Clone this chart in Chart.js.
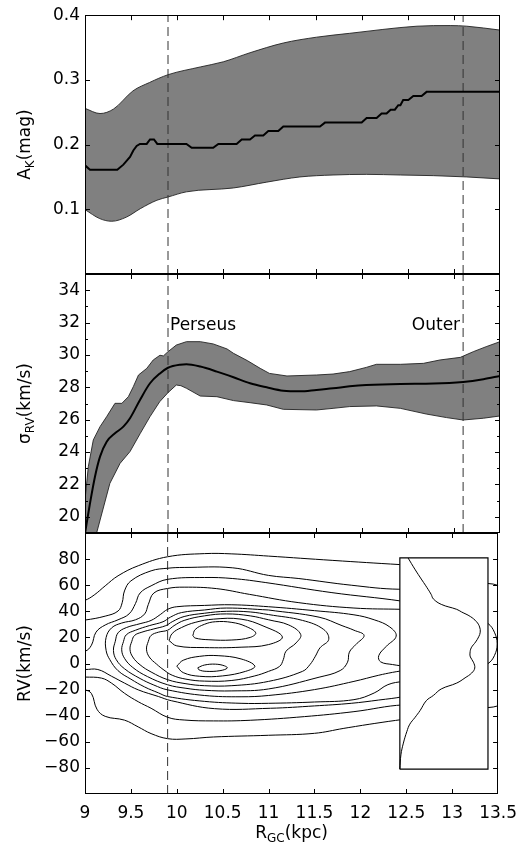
<!DOCTYPE html>
<html><head><meta charset="utf-8">
<script src="https://cdn.jsdelivr.net/npm/chart.js@4.4.1/dist/chart.umd.min.js"></script>
<style>
html,body{margin:0;padding:0;background:#fff;}
#wrap{position:relative;width:526px;height:850px;background:#fff;}
canvas{position:absolute;left:0;top:0;}
</style></head><body>
<div id="wrap">
<canvas id="c1" width="526" height="850"></canvas>
<canvas id="c2" width="526" height="850"></canvas>
<canvas id="c3" width="526" height="850"></canvas>
</div>
<script>
// ---------- shared axis values ----------
const xTicks = [9, 9.5, 10, 10.5, 11, 11.5, 12, 12.5, 13, 13.5];
const regionLines = [9.9, 13.1];
const akTicks = [0, 0.1, 0.2, 0.3, 0.4];
const sigTicks = [20, 22, 24, 26, 28, 30, 32, 34];
const sigMinor = [19, 21, 23, 25, 27, 29, 31, 33, 35];
const rvTicks = [-80, -60, -40, -20, 0, 20, 40, 60, 80];

// ---------- panel 1: A_K ----------
const akUpX = [9.0, 9.163, 9.31, 9.52, 9.70, 9.90, 10.25, 10.5, 10.79, 11.15, 11.51, 11.87, 12.23, 12.6, 12.96, 13.14, 13.5];
const akUp  = [0.256, 0.248, 0.255, 0.283, 0.296, 0.308, 0.320, 0.328, 0.342, 0.357, 0.366, 0.372, 0.378, 0.383, 0.384, 0.383, 0.377];
const akLoX = [9.0, 9.16, 9.29, 9.45, 9.6, 9.78, 9.9, 10.1, 10.61, 10.97, 11.33, 11.69, 12.05, 12.42, 12.78, 13.14, 13.5];
const akLo  = [0.0995, 0.0856, 0.0815, 0.088, 0.101, 0.114, 0.119, 0.127, 0.133, 0.142, 0.150, 0.153, 0.154, 0.153, 0.152, 0.150, 0.147];
const akMedX = [9.0, 9.054, 9.35, 9.416, 9.488, 9.524, 9.56, 9.596, 9.669, 9.705, 9.748, 9.784, 10.10, 10.157, 10.39, 10.446, 10.644, 10.699, 10.789, 10.843, 10.933, 10.988, 11.096, 11.15, 11.548, 11.602, 12.0, 12.054, 12.162, 12.216, 12.27, 12.314, 12.36, 12.397, 12.42, 12.45, 12.506, 12.56, 12.65, 12.704, 13.5];
const akMed  = [0.168, 0.161, 0.161, 0.169, 0.181, 0.191, 0.198, 0.201, 0.201, 0.208, 0.208, 0.201, 0.201, 0.195, 0.195, 0.201, 0.201, 0.208, 0.208, 0.214, 0.214, 0.221, 0.221, 0.228, 0.228, 0.234, 0.234, 0.241, 0.241, 0.248, 0.248, 0.254, 0.254, 0.261, 0.261, 0.269, 0.269, 0.275, 0.275, 0.2815, 0.2815];

// ---------- panel 2: sigma_RV ----------
const sigMedX = [9.0, 9.054, 9.108, 9.163, 9.235, 9.325, 9.416, 9.488, 9.596, 9.705, 9.813, 9.9, 10.03, 10.1, 10.25, 10.43, 10.61, 10.79, 10.97, 11.15, 11.33, 11.51, 11.69, 11.87, 12.05, 12.42, 12.78, 13.1, 13.32, 13.5];
const sigMed  = [18.98, 20.83, 22.48, 23.72, 24.64, 25.16, 25.57, 26.09, 27.22, 28.25, 28.86, 29.21, 29.4, 29.42, 29.28, 28.97, 28.62, 28.25, 28.0, 27.79, 27.75, 27.84, 27.94, 28.06, 28.14, 28.21, 28.23, 28.33, 28.5, 28.7];
const sigUpX = [9.0, 9.036, 9.09, 9.163, 9.235, 9.325, 9.4, 9.47, 9.524, 9.58, 9.67, 9.74, 9.813, 9.85, 9.9, 9.99, 10.1, 10.25, 10.39, 10.54, 10.61, 10.76, 10.9, 11.0, 11.19, 11.51, 11.69, 11.87, 12.05, 12.16, 12.42, 12.67, 12.85, 13.07, 13.21, 13.35, 13.5];
const sigUp  = [21.04, 23.1, 24.75, 25.57, 26.19, 27.01, 27.01, 27.42, 28.04, 28.76, 29.17, 29.69, 29.98, 29.94, 30.2, 30.61, 30.82, 30.82, 30.68, 30.37, 30.1, 29.65, 29.17, 28.86, 28.7, 28.76, 28.82, 28.97, 29.23, 29.42, 29.42, 29.48, 29.69, 29.85, 30.2, 30.51, 30.82];
const sigLoX = [9.0, 9.126, 9.27, 9.38, 9.488, 9.6, 9.705, 9.81, 9.9, 9.99, 10.04, 10.1, 10.25, 10.43, 10.61, 10.79, 10.97, 11.15, 11.51, 11.69, 11.87, 12.16, 12.42, 12.7, 12.92, 13.1, 13.32, 13.5];
const sigLo  = [16.3, 19.0, 22.07, 23.3, 24.03, 25.16, 26.19, 27.11, 27.67, 28.14, 28.1, 27.94, 27.46, 27.42, 27.18, 27.05, 26.91, 26.64, 26.6, 26.7, 26.81, 26.85, 26.7, 26.35, 26.13, 25.98, 26.09, 26.23];
const regionNames = ['Perseus', 'Outer'];

// ---------- panel 3: RV contours (R_GC, RV) ----------
const contourA = [[12.8,74.5],[12.43,75.8],[11.7,79],[11.0,82.3],[10.6,84],[10.3,84.2],[9.9,81.8],[9.58,74.9],[9.36,67.2],[9.22,59.5],[9.1,52.5],[9.0,48.4],[8.8,44],[8.8,-19],[9.0,-20.3],[9.07,-23],[9.13,-35],[9.22,-40.5],[9.43,-43.4],[9.58,-48.6],[9.72,-53.7],[9.9,-57.6],[10.1,-57.8],[10.4,-56.3],[11.0,-55],[11.5,-53.5],[11.82,-49.7],[12.15,-46],[12.47,-42.8],[12.8,-40]];
const contourB = [[13.6,57.5],[13.39,61.3],[12.9,58.5],[12.42,56.9],[11.9,60],[11.33,65.1],[11.0,67.5],[10.61,73.3],[10.08,73.6],[9.9,73],[9.72,71],[9.5,63.3],[9.43,55.6],[9.405,46.6],[9.36,40.2],[9.22,36.3],[9.0,33.3],[8.8,32],[8.8,-10],[9.0,-10.4],[9.18,-11.2],[9.29,-15.1],[9.43,-22.8],[9.58,-29.3],[9.72,-34.3],[9.9,-41.2],[10.08,-43.3],[10.4,-44],[10.8,-43.5],[11.39,-40.7],[11.93,-36.9],[12.47,-31.7],[12.9,-33],[13.39,-33.8],[13.6,-30.5]];
const contourC = [[13.3,-2],[13.39,-0.1],[13.46,6],[13.49,15],[13.46,24],[13.39,30.7],[13.3,33],[12.9,42],[12.45,47.8],[11.69,54.3],[10.97,62],[10.61,65.1],[10.3,65.9],[9.9,64.5],[9.72,59.5],[9.6,54],[9.55,46],[9.48,38],[9.36,33.5],[9.22,29.5],[9.12,24],[9.07,14],[9.0,9.4],[8.8,8],[8.8,-4],[9.0,-4.6],[9.14,-4.6],[9.29,-9.8],[9.43,-15],[9.58,-20.2],[9.8,-25.3],[9.94,-28.5],[10.41,-34.6],[11.02,-34.3],[11.5,-32.5],[11.9,-30.5],[12.2,-28],[12.47,-25.3],[12.9,-18],[13.3,-2]];
const contourD = [[12.7,41],[12.45,41.5],[11.93,42.5],[11.33,46.6],[10.79,53],[10.43,57.4],[10.08,58.5],[9.9,57.5],[9.75,54],[9.69,45.3],[9.65,38],[9.55,33.5],[9.4,31],[9.29,27.3],[9.23,20],[9.23,10],[9.27,3],[9.36,-5.5],[9.5,-12],[9.65,-18],[9.8,-22.5],[9.9,-25.3],[10.3,-29],[10.7,-30.5],[11.0,-30.5],[11.5,-29.5],[11.93,-27.7],[12.15,-22.6],[12.3,-16.2],[12.47,-13.7],[12.7,-12]];
const contourE = [[12.6,-3.5],[12.5,-2.3],[12.35,-0.8],[12.22,1.3],[12.2,6],[12.28,13],[12.39,21],[12.32,28],[12.15,33.5],[11.93,37.3],[11.5,40.5],[11.0,43.5],[10.6,45],[10.3,44.5],[10.0,43.5],[9.9,41.5],[9.82,37.5],[9.72,33],[9.6,30.5],[9.45,27.5],[9.36,23.5],[9.33,17],[9.31,10],[9.34,3],[9.43,-4],[9.6,-11.5],[9.75,-16.5],[9.9,-20.2],[10.3,-24.5],[10.7,-25.5],[11.0,-24.5],[11.5,-20],[11.93,-13.7],[12.2,-9],[12.35,-6.8],[12.5,-5],[12.6,-3.5]];
const contourH = [[11.0,41],[10.54,42.5],[10.3,41],[10.05,39],[9.93,35.5],[9.85,32],[9.7,29],[9.55,25.5],[9.45,22],[9.42,17],[9.4,10.5],[9.43,4],[9.52,-3],[9.68,-10],[9.9,-16.3],[10.1,-19],[10.3,-20.5],[10.6,-21],[11.0,-19.5],[11.55,-10.5],[11.78,-5.4],[11.86,1],[11.88,8.7],[11.95,14.5],[12.04,21.5],[11.93,25.5],[11.8,29],[11.55,35.5],[11.0,41]];
const contourG = [[11.0,37.5],[10.8,39.5],[10.54,40],[10.3,38.5],[10.08,36],[9.95,32],[9.88,29],[9.75,26.5],[9.62,24],[9.54,21.5],[9.51,17],[9.49,11],[9.52,5],[9.6,-1],[9.72,-6.5],[9.9,-12.4],[10.1,-15.5],[10.3,-17],[10.6,-17],[11.0,-13.7],[11.37,-6],[11.45,-0.9],[11.51,5.6],[11.56,12],[11.655,18.4],[11.6,26.1],[11.37,33],[11.0,37.5]];
const contourF = [[11.0,33.5],[10.8,36.5],[10.54,38],[10.3,36.5],[10.08,33],[9.97,29],[9.9,25.5],[9.8,24],[9.72,21.5],[9.69,17],[9.67,11],[9.7,5],[9.78,-0.5],[9.86,-5],[9.95,-9],[10.1,-12],[10.3,-13.5],[10.6,-13],[10.85,-9.5],[11.0,-6],[11.12,-2.2],[11.16,2.9],[11.19,9.4],[11.3,15.8],[11.35,22.2],[11.22,29.5],[11.0,33.5]];
const contourUp1 = [[9.915,17.6],[9.95,23],[10.05,27.5],[10.2,31.5],[10.4,34],[10.7,34],[10.95,28.5],[11.15,20.4],[11.0,14.5],[10.7,12.5],[10.3,12.2],[10.0,13.5],[9.915,17.6]];
const contourUp2 = [[10.175,21.5],[10.2,26],[10.3,30],[10.42,32],[10.6,31.5],[10.75,28.5],[10.86,23.5],[10.8,20],[10.6,18],[10.35,18.2],[10.2,19.5],[10.175,21.5]];
const contourLo1 = [[10.0,-2],[10.07,2.5],[10.25,5.5],[10.45,6],[10.7,3.5],[10.85,-2],[10.75,-6],[10.5,-9.5],[10.25,-9.8],[10.07,-7],[10.0,-2]];
const contourLo2 = [[10.23,-3.2],[10.3,-1.2],[10.42,-0.5],[10.52,-1.8],[10.55,-3.5],[10.47,-5.5],[10.32,-6],[10.24,-4.8],[10.23,-3.2]];
const contourList = [contourA, contourB, contourC, contourD, contourE, contourH, contourG, contourF, contourUp1, contourUp2, contourLo1, contourLo2];

// inset: RV distribution (density 0..1 across the inset box)
const insetX = [12.43, 13.39];
const insetY = [-81, 81];
const profDensity = [0.0, 0.012, 0.04, 0.08, 0.113, 0.17, 0.23, 0.3, 0.38, 0.47, 0.645, 0.74, 0.815, 0.85, 0.835, 0.8, 0.796, 0.81, 0.86, 0.895, 0.912, 0.905, 0.87, 0.8, 0.7, 0.645, 0.47, 0.38, 0.355, 0.29, 0.25, 0.17, 0.094];
const profRV      = [-81, -70, -61, -52, -46.5, -41.5, -36, -28.5, -24.5, -19.5, -15, -11, -7.3, -3.5, 1, 5, 8, 12, 16.5, 20.5, 24, 28, 32, 36, 39.5, 41.5, 45.3, 49.5, 53, 60, 64, 72.3, 80.8];

// ---------- helpers ----------
const FONT = {family: 'DejaVu Sans', size: 17};
const zip = (xs, ys) => xs.map((x, i) => ({x, y: ys[i]}));
const pts = arr => arr.map(p => ({x: p[0], y: p[1]}));

function drawRich(ctx, parts, x, y, rotate) {
  const mainF = '17px "DejaVu Sans"', subF = '12px "DejaVu Sans"';
  ctx.save();
  ctx.translate(x, y);
  if (rotate) ctx.rotate(-Math.PI / 2);
  let w = 0;
  const ws = parts.map(p => { ctx.font = p[1] ? subF : mainF; const m = ctx.measureText(p[0]).width; w += m; return m; });
  let cx = -w / 2;
  ctx.fillStyle = '#000'; ctx.textBaseline = 'alphabetic'; ctx.textAlign = 'left';
  parts.forEach((p, i) => { ctx.font = p[1] ? subF : mainF; ctx.fillText(p[0], cx, p[1] ? 4 : 0); cx += ws[i]; });
  ctx.restore();
}

const decor = {
  id: 'decor',
  afterDraw(chart, args, o) {
    const {ctx, chartArea: {left, right, top, bottom}} = chart;
    const xs = chart.scales.x, ys = chart.scales.y;
    ctx.save();
    ctx.strokeStyle = '#000'; ctx.lineWidth = 1;
    ctx.beginPath();
    xTicks.forEach(v => {
      if (v <= 9 || v >= 13.5) return;
      const p = Math.round(xs.getPixelForValue(v)) + 0.5;
      ctx.moveTo(p, bottom); ctx.lineTo(p, bottom - 5);
      ctx.moveTo(p, top); ctx.lineTo(p, top + 5);
    });
    const yt = (vals, len) => vals.forEach(v => {
      const p = Math.round(ys.getPixelForValue(v)) + 0.5;
      if (p <= top + 1 || p >= bottom - 1) return;
      ctx.moveTo(left, p); ctx.lineTo(left + len, p);
      ctx.moveTo(right, p); ctx.lineTo(right - len, p);
    });
    yt(o.major || [], 5);
    yt(o.minor || [], 3);
    ctx.stroke();
    ctx.strokeRect(Math.round(left) + 0.5, Math.round(top) + 0.5, Math.round(right - left) - 1, Math.round(bottom - top) - 1);
    ctx.restore();
    if (o.yTitle) drawRich(ctx, o.yTitle, 30, (top + bottom) / 2, true);
    if (o.xTitle) drawRich(ctx, o.xTitle, (left + right) / 2, 838, false);
    if (o.notes) {
      ctx.save();
      ctx.font = '17px "DejaVu Sans"'; ctx.fillStyle = '#000'; ctx.textBaseline = 'alphabetic';
      o.notes.forEach(n => {
        ctx.textAlign = n.align;
        ctx.fillText(n.text, xs.getPixelForValue(n.x) + (n.align === 'left' ? 2 : -3), ys.getPixelForValue(n.y));
      });
      ctx.restore();
    }
  }
};

function options(padTop, padBottom, yMin, yMax, yTicks, yFmt, showX, decorOpts, extraScales) {
  const scales = {
    x: {type: 'linear', min: 9, max: 13.5, display: showX,
        afterFit(s) { if (showX) s.height = 56; },
        afterBuildTicks(s) { s.ticks = xTicks.map(v => ({value: v})); },
        grid: {display: false, drawTicks: false}, border: {display: false},
        ticks: {font: FONT, color: '#000', padding: 9, maxRotation: 0, autoSkip: false, callback: v => String(v)}},
    y: {type: 'linear', min: yMin, max: yMax,
        afterFit(s) { s.width = 85; },
        afterBuildTicks(s) { s.ticks = yTicks.map(v => ({value: v})); },
        grid: {display: false, drawTicks: false}, border: {display: false},
        ticks: {font: FONT, color: '#000', padding: 5, autoSkip: false, callback: yFmt}}
  };
  Object.assign(scales, extraScales || {});
  return {
    responsive: false, animation: false, events: [],
    layout: {padding: {left: 0, right: 26, top: padTop, bottom: padBottom}},
    plugins: {legend: {display: false}, tooltip: {enabled: false}, decor: decorOpts},
    scales
  };
}

const lineDefaults = {showLine: true, pointRadius: 0, borderColor: '#000', capBezierPoints: false};
function dashed(x, yMin, yMax) {
  return Object.assign({}, lineDefaults, {data: [{x, y: yMin}, {x, y: yMax}], borderWidth: 1, borderColor: '#333', borderDash: [9, 5], fill: false, order: 1});
}

// ---------- chart 1 ----------
new Chart(document.getElementById('c1'), {
  type: 'scatter',
  data: {datasets: [
    Object.assign({}, lineDefaults, {data: zip(akUpX, akUp), fill: '+1', backgroundColor: '#808080', borderColor: '#222', borderWidth: 0.9, cubicInterpolationMode: 'monotone', order: 5}),
    Object.assign({}, lineDefaults, {data: zip(akLoX, akLo), fill: false, borderColor: '#222', borderWidth: 0.9, cubicInterpolationMode: 'monotone', order: 4}),
    dashed(regionLines[0], 0, 0.4), dashed(regionLines[1], 0, 0.4),
    Object.assign({}, lineDefaults, {data: zip(akMedX, akMed), fill: false, borderWidth: 2, tension: 0, order: 0})
  ]},
  options: options(14, 576, 0, 0.4, akTicks, v => v === 0 ? '' : v.toFixed(1), false,
    {major: akTicks, yTitle: [['A', 0], ['K', 1], ['(mag)', 0]]}),
  plugins: [decor]
});

// ---------- chart 2 ----------
new Chart(document.getElementById('c2'), {
  type: 'scatter',
  data: {datasets: [
    Object.assign({}, lineDefaults, {data: zip(sigUpX, sigUp), fill: '+1', backgroundColor: '#808080', borderColor: '#222', borderWidth: 0.9, tension: 0, order: 5}),
    Object.assign({}, lineDefaults, {data: zip(sigLoX, sigLo), fill: false, borderColor: '#222', borderWidth: 0.9, tension: 0, order: 4}),
    dashed(regionLines[0], 19, 35), dashed(regionLines[1], 19, 35),
    Object.assign({}, lineDefaults, {data: zip(sigMedX, sigMed), fill: false, borderWidth: 2, cubicInterpolationMode: 'monotone', order: 0})
  ]},
  options: options(274, 317, 19, 35, sigTicks, v => String(v), false,
    {major: sigTicks, minor: sigMinor, yTitle: [['σ', 0], ['RV', 1], ['(km/s)', 0]],
     notes: [{text: regionNames[0], x: regionLines[0], y: 31.55, align: 'left'}, {text: regionNames[1], x: regionLines[1], y: 31.55, align: 'right'}]}),
  plugins: [decor]
});

// ---------- chart 3 ----------
const dMin = -(insetX[0] - 9) / (insetX[1] - insetX[0]);
const dMax = dMin + (13.5 - 9) / (insetX[1] - insetX[0]);
const contourSets = contourList.map(c => Object.assign({}, lineDefaults, {data: pts(c), fill: false, borderWidth: 1, tension: 0.4, order: 10}));
new Chart(document.getElementById('c3'), {
  type: 'scatter',
  data: {datasets: [
    Object.assign({}, lineDefaults, {xAxisID: 'xd', data: zip(profDensity, profRV), fill: false, borderWidth: 1, tension: 0.4, order: 0}),
    Object.assign({}, lineDefaults, {data: [{x: insetX[0], y: insetY[0]}, {x: insetX[0], y: insetY[1]}, {x: insetX[1], y: insetY[1]}, {x: insetX[1], y: insetY[0]}, {x: insetX[0], y: insetY[0]}],
      fill: 'shape', backgroundColor: '#fff', borderWidth: 1.2, tension: 0, order: 2}),
    Object.assign(dashed(regionLines[0], -100, 100), {order: 11}),
    ...contourSets
  ]},
  options: options(533, 0, -100, 100, rvTicks, v => v < 0 ? '\u2212' + Math.abs(v) : String(v), true,
    {major: rvTicks, yTitle: [['RV(km/s)', 0]], xTitle: [['R', 0], ['GC', 1], ['(kpc)', 0]]},
    {xd: {type: 'linear', axis: 'x', min: dMin, max: dMax, display: false}}),
  plugins: [decor]
});
</script>
</body></html>
